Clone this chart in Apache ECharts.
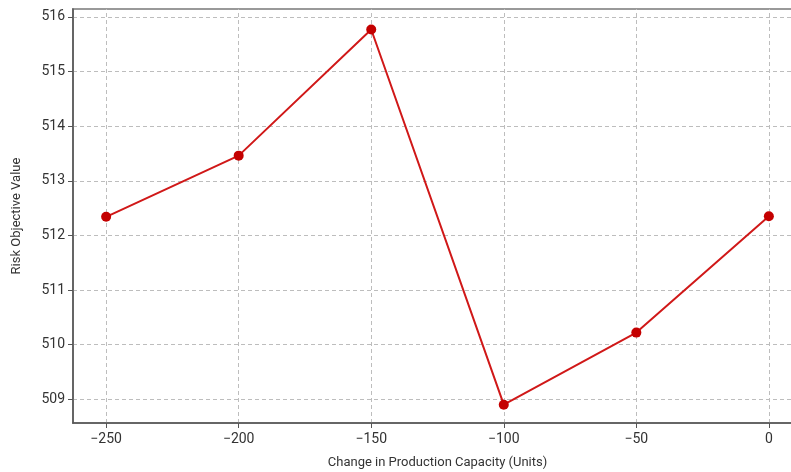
<!DOCTYPE html>
<html>
<head>
<meta charset="utf-8">
<script src="https://cdn.jsdelivr.net/npm/echarts@6/dist/echarts.min.js"></script>
<style>
  html, body { margin: 0; padding: 0; background: #fff; }
  #chart { width: 791px; height: 472px; }
</style>
</head>
<body>
<div id="chart"></div>
<script>
// data
const capacityChange = [-250, -200, -150, -100, -50, 0]
const riskValue = [512.34, 513.46, 515.77, 508.9, 510.22, 512.35]
const xTicks = [-250, -200, -150, -100, -50, 0]
const yTicks = [509, 510, 511, 512, 513, 514, 515, 516]

const font = 'Roboto, "Open Sans", sans-serif'
const chart = echarts.init(document.getElementById('chart'))

const gridLine = {
  color: '#bdbdbd',
  width: 1,
  type: [4, 3]
}

// grid lines drawn as markLines so they sit exactly on the tick values
const gridMarks = [
  ...xTicks.map(v => ({ xAxis: v })),
  ...yTicks.map(v => ({ yAxis: v }))
]

const option = {
  animation: false,
  grid: {
    left: 73,
    top: 9,
    width: 729,
    height: 414,
    outerBoundsMode: 'none',
    containLabel: false,
    show: true,
    borderColor: '#999',
    borderWidth: 2,
    backgroundColor: 'transparent'
  },
  xAxis: {
    type: 'value',
    min: -262.5,
    max: 12.5,
    name: 'Change in Production Capacity (Units)',
    nameLocation: 'middle',
    nameGap: 33,
    nameTextStyle: { fontFamily: font, fontSize: 13, color: '#333' },
    axisLine: { show: true, onZero: false, lineStyle: { color: '#555', width: 1.5 } },
    axisTick: { show: true, customValues: xTicks, length: 5, lineStyle: { color: '#555' } },
    axisLabel: {
      customValues: xTicks,
      fontFamily: font,
      fontSize: 14,
      color: '#333',
      margin: 9,
      formatter: v => (v < 0 ? '\u2212' + Math.abs(v) : String(v))
    },
    splitLine: { show: false }
  },
  yAxis: {
    type: 'value',
    min: 508.565,
    max: 516.145,
    name: 'Risk Objective Value',
    nameLocation: 'middle',
    nameGap: 50,
    nameTextStyle: { fontFamily: font, fontSize: 13, color: '#333' },
    axisLine: { show: true, onZero: false, lineStyle: { color: '#555', width: 1.5 } },
    axisTick: { show: true, customValues: yTicks, length: 5, lineStyle: { color: '#555' } },
    axisLabel: {
      customValues: yTicks,
      fontFamily: font,
      fontSize: 14,
      color: '#333',
      margin: 8
    },
    splitLine: { show: false }
  },
  series: [
    {
      type: 'line',
      z: 1,
      silent: true,
      data: capacityChange.map((x, i) => [x, riskValue[i]]),
      symbol: 'none',
      lineStyle: { opacity: 0 },
      markLine: {
        silent: true,
        z: 0,
        symbol: 'none',
        label: { show: false },
        lineStyle: gridLine,
        data: gridMarks
      }
    },
    {
      type: 'line',
      z: 3,
      data: capacityChange.map((x, i) => [x, riskValue[i]]),
      symbol: 'circle',
      symbolSize: 10,
      lineStyle: { color: '#d01818', width: 2 },
      itemStyle: { color: '#c40000' }
    }
  ]
}

chart.setOption(option)
</script>
</body>
</html>
